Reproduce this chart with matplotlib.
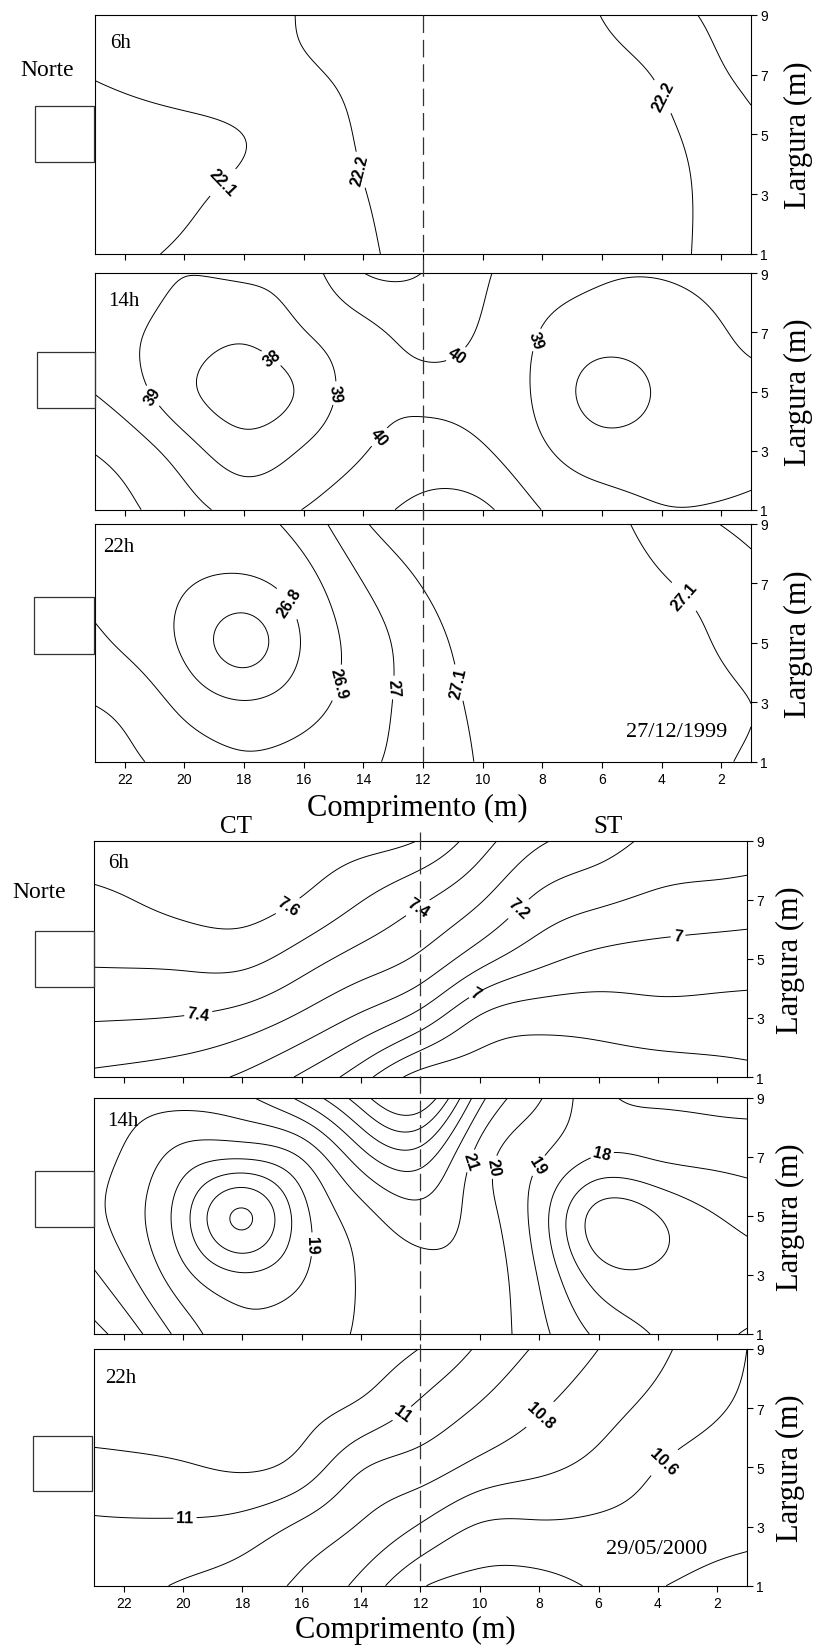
import numpy as np
import matplotlib.pyplot as plt
from matplotlib.patches import Rectangle
from matplotlib.lines import Line2D

SERIF = ['Liberation Serif', 'DejaVu Serif']
NARROW = ['Liberation Sans Narrow', 'Liberation Sans', 'DejaVu Sans']
plt.rcParams['font.family'] = ['Liberation Sans', 'DejaVu Sans']
plt.rcParams['axes.linewidth'] = 0.8

# Measurement grid: columns at x = 24, 22, ..., 0 m, rows at y = 9, 7, 5, 3, 1 m
grid_x = np.arange(24, -1, -2)
grid_y = np.array([9, 7, 5, 3, 1])

# -----------------------------
# 27/12/1999 - air temperature (C)
# -----------------------------
dec_06h = [
    [22.131, 22.149, 22.166, 22.184, 22.203, 22.225, 22.240, 22.248, 22.240, 22.198, 22.137, 22.076, 22.015],
    [22.093, 22.117, 22.142, 22.166, 22.191, 22.215, 22.235, 22.242, 22.235, 22.222, 22.190, 22.110, 22.050],
    [22.050, 22.065, 22.078, 22.101, 22.153, 22.208, 22.232, 22.240, 22.238, 22.228, 22.212, 22.160, 22.090],
    [22.045, 22.060, 22.085, 22.120, 22.160, 22.198, 22.225, 22.238, 22.240, 22.232, 22.215, 22.185, 22.160],
    [22.060, 22.085, 22.110, 22.135, 22.163, 22.192, 22.218, 22.235, 22.240, 22.233, 22.215, 22.185, 22.165],
]
dec_14h = [
    [39.60, 39.35, 39.02, 39.15, 39.55, 40.98, 40.98, 40.12, 39.50, 39.10, 39.05, 39.25, 39.50],
    [39.45, 39.15, 38.60, 38.20, 38.95, 39.75, 40.25, 39.90, 38.95, 38.45, 38.55, 38.95, 39.35],
    [40.30, 39.50, 38.25, 37.55, 38.20, 39.60, 39.90, 39.70, 38.75, 37.65, 38.15, 38.70, 38.80],
    [41.20, 40.60, 39.45, 38.45, 39.10, 39.95, 40.35, 40.10, 39.15, 38.45, 38.50, 38.60, 38.80],
    [41.85, 41.20, 40.40, 39.70, 40.02, 40.60, 41.30, 41.20, 39.98, 39.40, 39.05, 39.10, 39.35],
]
dec_22h = [
    [26.860, 26.862, 26.865, 26.870, 26.942, 27.090, 27.159, 27.170, 27.170, 27.140, 27.053, 26.998, 26.940],
    [26.890, 26.860, 26.810, 26.780, 26.860, 27.000, 27.105, 27.160, 27.170, 27.165, 27.110, 27.060, 27.000],
    [26.950, 26.885, 26.780, 26.660, 26.810, 26.945, 27.060, 27.140, 27.180, 27.180, 27.150, 27.090, 27.030],
    [27.010, 26.970, 26.870, 26.805, 26.860, 26.950, 27.050, 27.120, 27.170, 27.180, 27.160, 27.120, 27.080],
    [27.080, 27.020, 26.960, 26.915, 26.940, 26.985, 27.040, 27.110, 27.160, 27.170, 27.150, 27.110, 27.060],
]

# -----------------------------
# 29/05/2000 - air temperature (C)
# -----------------------------
may_06h = [
    [7.660, 7.660, 7.660, 7.655, 7.650, 7.640, 7.595, 7.445, 7.315, 7.250, 7.175, 7.160, 7.140],
    [7.570, 7.595, 7.630, 7.640, 7.595, 7.505, 7.415, 7.310, 7.180, 7.120, 7.080, 7.065, 7.050],
    [7.510, 7.515, 7.525, 7.530, 7.450, 7.360, 7.280, 7.140, 7.030, 6.975, 6.960, 6.950, 6.940],
    [7.410, 7.405, 7.395, 7.360, 7.280, 7.180, 7.060, 6.890, 6.840, 6.845, 6.865, 6.865, 6.865],
    [7.290, 7.270, 7.240, 7.185, 7.085, 6.940, 6.760, 6.740, 6.730, 6.730, 6.740, 6.760, 6.785],
]
may_14h = [
    [21.80, 21.40, 21.40, 21.80, 23.30, 25.60, 26.90, 22.40, 20.10, 18.30, 17.80, 17.70, 17.60],
    [21.70, 20.90, 19.60, 19.15, 20.10, 22.60, 23.50, 20.60, 19.10, 17.95, 18.10, 18.20, 18.30],
    [21.80, 20.60, 18.40, 15.85, 18.60, 20.60, 21.60, 20.50, 18.50, 15.60, 16.00, 17.00, 17.50],
    [22.80, 21.30, 19.30, 18.10, 18.90, 20.10, 20.70, 20.60, 18.90, 16.50, 16.20, 16.50, 16.70],
    [23.80, 22.60, 20.60, 19.30, 19.60, 20.10, 20.70, 20.60, 19.30, 17.80, 16.90, 16.20, 15.70],
]
may_22h = [
    [11.160, 11.160, 11.160, 11.160, 11.160, 11.150, 11.097, 10.985, 10.885, 10.800, 10.720, 10.640, 10.560],
    [11.170, 11.165, 11.160, 11.150, 11.130, 11.080, 10.980, 10.890, 10.810, 10.740, 10.670, 10.610, 10.550],
    [11.050, 11.070, 11.090, 11.110, 11.060, 10.910, 10.850, 10.770, 10.720, 10.670, 10.600, 10.560, 10.520],
    [10.990, 10.990, 10.985, 10.960, 10.880, 10.790, 10.690, 10.590, 10.585, 10.580, 10.565, 10.540, 10.520],
    [10.950, 10.930, 10.890, 10.850, 10.780, 10.670, 10.510, 10.470, 10.470, 10.510, 10.505, 10.460, 10.420],
]

levels_dec_06h = [22.1, 22.2]
levels_dec_14h = [38, 39, 40, 41]
levels_dec_22h = [26.7, 26.8, 26.9, 27.0, 27.1]
levels_may_06h = [6.8, 6.9, 7.0, 7.1, 7.2, 7.3, 7.4, 7.5, 7.6]
levels_may_14h = list(range(16, 27))
levels_may_22h = [10.5, 10.6, 10.7, 10.8, 10.9, 11.0, 11.1]

# where the isotherm values are written (x, y in metres)
marks_dec_06h = [(18.77, 3.45), (14.0, 3.84), (4.13, 6.18)]
marks_dec_14h = [(20.88, 4.97), (17.11, 6.10), (15.17, 4.97), (11.02, 6.44), (8.29, 6.78), (13.32, 3.34)]
marks_dec_22h = [(16.67, 6.24), (14.94, 3.67), (13.10, 3.50), (10.75, 3.67), (3.32, 6.48)]
marks_may_06h = [(16.55, 6.91), (12.07, 6.69), (8.80, 6.80), (19.47, 3.03), (10.2, 3.90), (3.33, 5.84)]
marks_may_14h = [(15.47, 4.03), (10.45, 6.90), (9.45, 6.63), (8.0, 6.68), (5.86, 6.97)]
marks_may_22h = [(19.93, 3.08), (12.61, 6.80), (7.94, 6.75), (3.35, 4.72)]


def spline_matrix(nodes, pts):
    # natural cubic spline written as a linear map from node values to values at pts
    n = len(nodes)
    h = np.diff(nodes)
    A = np.zeros((n, n))
    B = np.zeros((n, n))
    A[0, 0] = A[-1, -1] = 1.0
    for i in range(1, n - 1):
        A[i, i - 1] = h[i - 1] / 6
        A[i, i] = (h[i - 1] + h[i]) / 3
        A[i, i + 1] = h[i] / 6
        B[i, i - 1] = 1 / h[i - 1]
        B[i, i] = -1 / h[i - 1] - 1 / h[i]
        B[i, i + 1] = 1 / h[i]
    M = np.linalg.solve(A, B)
    idx = np.clip(np.searchsorted(nodes, pts) - 1, 0, n - 2)
    x0, x1 = nodes[idx], nodes[idx + 1]
    hh = x1 - x0
    a = (x1 - pts) / hh
    b = (pts - x0) / hh
    Wm = np.zeros((len(pts), n))
    rows = np.arange(len(pts))
    Wm[rows, idx] += a
    Wm[rows, idx + 1] += b
    Wm += ((a ** 3 - a) * hh ** 2 / 6)[:, None] * M[idx]
    Wm += ((b ** 3 - b) * hh ** 2 / 6)[:, None] * M[idx + 1]
    return Wm


xf = np.linspace(1, 23, 221)
yf = np.linspace(1, 9, 81)
Wx = spline_matrix(grid_x[::-1].astype(float), xf)
Wy = spline_matrix(grid_y[::-1].astype(float), yf)

W_PX, H_PX = 820, 1649
fig = plt.figure(figsize=(8.2, 16.49), dpi=100)


def fx(px):
    return px / W_PX


def fy(py):
    return 1 - py / H_PX


def ftext(px, py, s, size, **kw):
    fig.text(fx(px), fy(py), s, fontsize=size, family=SERIF, **kw)


# (data, levels, label marks, hour, frame left/top/right/bottom in px, building box, hour label pos)
panels = [
    (dec_06h, levels_dec_06h, marks_dec_06h, '6h', (95, 15.7, 751, 255.0), (34.7, 106.7, 93.6, 163.3), (110, 43)),
    (dec_14h, levels_dec_14h, marks_dec_14h, '14h', (95, 274.3, 751, 510.7), (36.8, 353.3, 95.0, 409.3), (108, 301)),
    (dec_22h, levels_dec_22h, marks_dec_22h, '22h', (95, 524.7, 751, 762.7), (33.6, 598.3, 93.6, 655.0), (103, 547.5)),
    (may_06h, levels_may_06h, marks_may_06h, '6h', (94, 841.5, 747, 1078.0), (35.0, 932.3, 94.0, 988.3), (108, 864)),
    (may_14h, levels_may_14h, marks_may_14h, '14h', (94, 1098.5, 747, 1335.0), (35.2, 1171.7, 94.0, 1228.3), (107, 1121)),
    (may_22h, levels_may_22h, marks_may_22h, '22h', (94, 1350.0, 747, 1586.7), (32.6, 1436.7, 92.5, 1492.3), (105, 1379)),
]

for k, (data, levels, marks, hour, (l, t, r, b), box, hpos) in enumerate(panels):
    ax = fig.add_axes([fx(l), fy(b), (r - l) / W_PX, (b - t) / H_PX])
    Z = np.array(data, dtype=float)[::-1, ::-1]   # rows and columns in ascending order
    Zf = Wy @ Z @ Wx.T
    cs = ax.contour(xf, yf, Zf, levels=levels, colors='black', linewidths=0.7)
    with plt.rc_context({'font.weight': 'bold'}):
        ax.clabel(cs, levels=levels, manual=marks, inline=True, inline_spacing=3,
                  fontsize=11.5, fmt=lambda v: f'{round(v, 1):g}')

    ax.set_xlim(23, 1)
    ax.set_ylim(1, 9)
    ax.set_xticks(np.arange(22, 1, -2))
    ax.set_yticks([1, 3, 5, 7, 9])
    ax.yaxis.tick_right()
    ax.tick_params(axis='both', direction='out', length=4.5, width=0.8, pad=2)
    ax.tick_params(axis='x', labelbottom=(k in (2, 5)), pad=3)
    for lab in ax.get_xticklabels() + ax.get_yticklabels():
        lab.set_family(NARROW)
        lab.set_fontsize(10)

    # building outline on the north side
    bl, bt, br, bb = box
    fig.add_artist(Rectangle((fx(bl), fy(bb)), (br - bl) / W_PX, (bb - bt) / H_PX,
                             transform=fig.transFigure, fill=False, edgecolor='#333333', linewidth=0.9))

    ftext(hpos[0], hpos[1], hour, 15, ha='left', va='center')
    ftext(798 if k < 3 else 790, (t + b) / 2, 'Largura (m)', 22, rotation=90, ha='center', va='center')

# row of the screen at x = 12 m, one line through each group of panels
for xpx, y0, y1 in [(423, 15.7, 762.7), (420.5, 833, 1586.7)]:
    fig.add_artist(Line2D([fx(xpx), fx(xpx)], [fy(y0), fy(y1)], transform=fig.transFigure,
                          color='#333333', linewidth=0.9, dashes=(14, 5.5)))

ftext(47, 70, 'Norte', 17, ha='center', va='center')
ftext(39.5, 893, 'Norte', 17, ha='center', va='center')
ftext(677, 732.5, '27/12/1999', 16, ha='center', va='center')
ftext(657, 1550, '29/05/2000', 16, ha='center', va='center')
ftext(417, 808, 'Comprimento (m)', 22, ha='center', va='center')
ftext(405, 1630, 'Comprimento (m)', 22, ha='center', va='center')
ftext(236, 827, 'CT', 18, ha='center', va='center')
ftext(608, 827, 'ST', 18, ha='center', va='center')

fig.savefig('out.png', dpi=100)
